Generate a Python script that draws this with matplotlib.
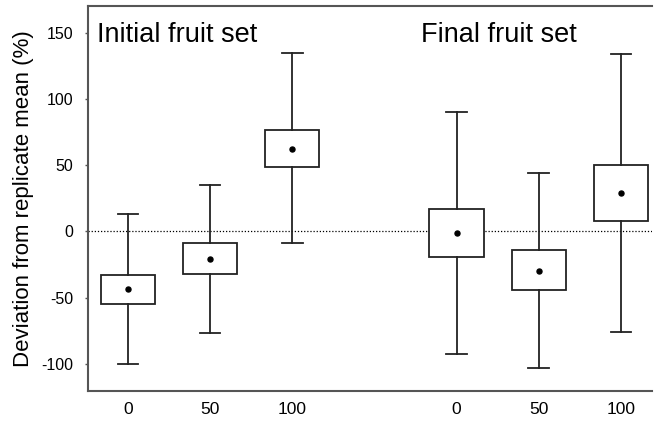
import matplotlib
matplotlib.use("Agg")
import matplotlib.pyplot as plt

plt.rcParams['font.family'] = ['Liberation Sans', 'DejaVu Sans']

tick_labels = ["0", "50", "100", "0", "50", "100"]
positions = [1, 2, 3, 5, 6, 7]
whisker_low = [-100, -76.8, -9.1, -92.7, -102.8, -76.0]
box_low = [-54.7, -32.0, 48.6, -19.4, -43.9, 7.5]
means = [-43.6, -20.5, 62.2, -1.3, -29.8, 28.9]
box_high = [-32.8, -9.1, 76.7, 16.8, -14.4, 50.1]
whisker_high = [13.0, 35.2, 134.7, 90.1, 44.3, 133.6]
panel_titles = ["Initial fruit set", "Final fruit set"]

fig = plt.figure(figsize=(6.55, 4.22), dpi=100)
ax = fig.add_axes([88/655, 1-391/422, (652-88)/655, (391-6)/422])

stats = []
for i in range(len(positions)):
    stats.append(dict(whislo=whisker_low[i], q1=box_low[i], med=means[i],
                      q3=box_high[i], whishi=whisker_high[i], mean=means[i],
                      fliers=[]))

ax.axhline(0, color='black', linestyle=(0, (1, 1.5)), linewidth=0.9, zorder=1)

ax.bxp(stats, positions=positions, widths=0.66, showmeans=True, showfliers=False,
       patch_artist=True,
       boxprops=dict(facecolor='white', edgecolor='#222222', linewidth=1.3),
       whiskerprops=dict(color='#222222', linewidth=1.3),
       capprops=dict(color='#222222', linewidth=1.3),
       medianprops=dict(linewidth=0),
       meanprops=dict(marker='o', markerfacecolor='black', markeredgecolor='black',
                      markersize=3.6),
       capwidths=0.25, zorder=3)

ax.set_xlim(0.513, 7.38)
ax.set_ylim(-120.4, 170)
ax.set_yticks([-100, -50, 0, 50, 100, 150])
ax.set_yticklabels(["-100", "-50", "0", "50", "100", "150"])
ax.set_xticks(positions)
ax.set_xticklabels(tick_labels)
ax.tick_params(axis='x', length=0, pad=8, labelsize=12.5)
ax.tick_params(axis='y', length=2.5, width=1, color='#555555', pad=8, labelsize=11.5)

for s in ['left', 'top', 'bottom']:
    ax.spines[s].set_color('#555555')
    ax.spines[s].set_linewidth(1.5)
ax.spines['right'].set_visible(False)

ax.set_ylabel("Deviation from replicate mean (%)", fontsize=16, labelpad=5)

ax.text(0.625, 143.2, panel_titles[0], fontsize=19.5, ha='left', va='baseline')
ax.text(5.52, 143.2, panel_titles[1], fontsize=19.5, ha='center', va='baseline')

fig.savefig("out.png", dpi=100)
